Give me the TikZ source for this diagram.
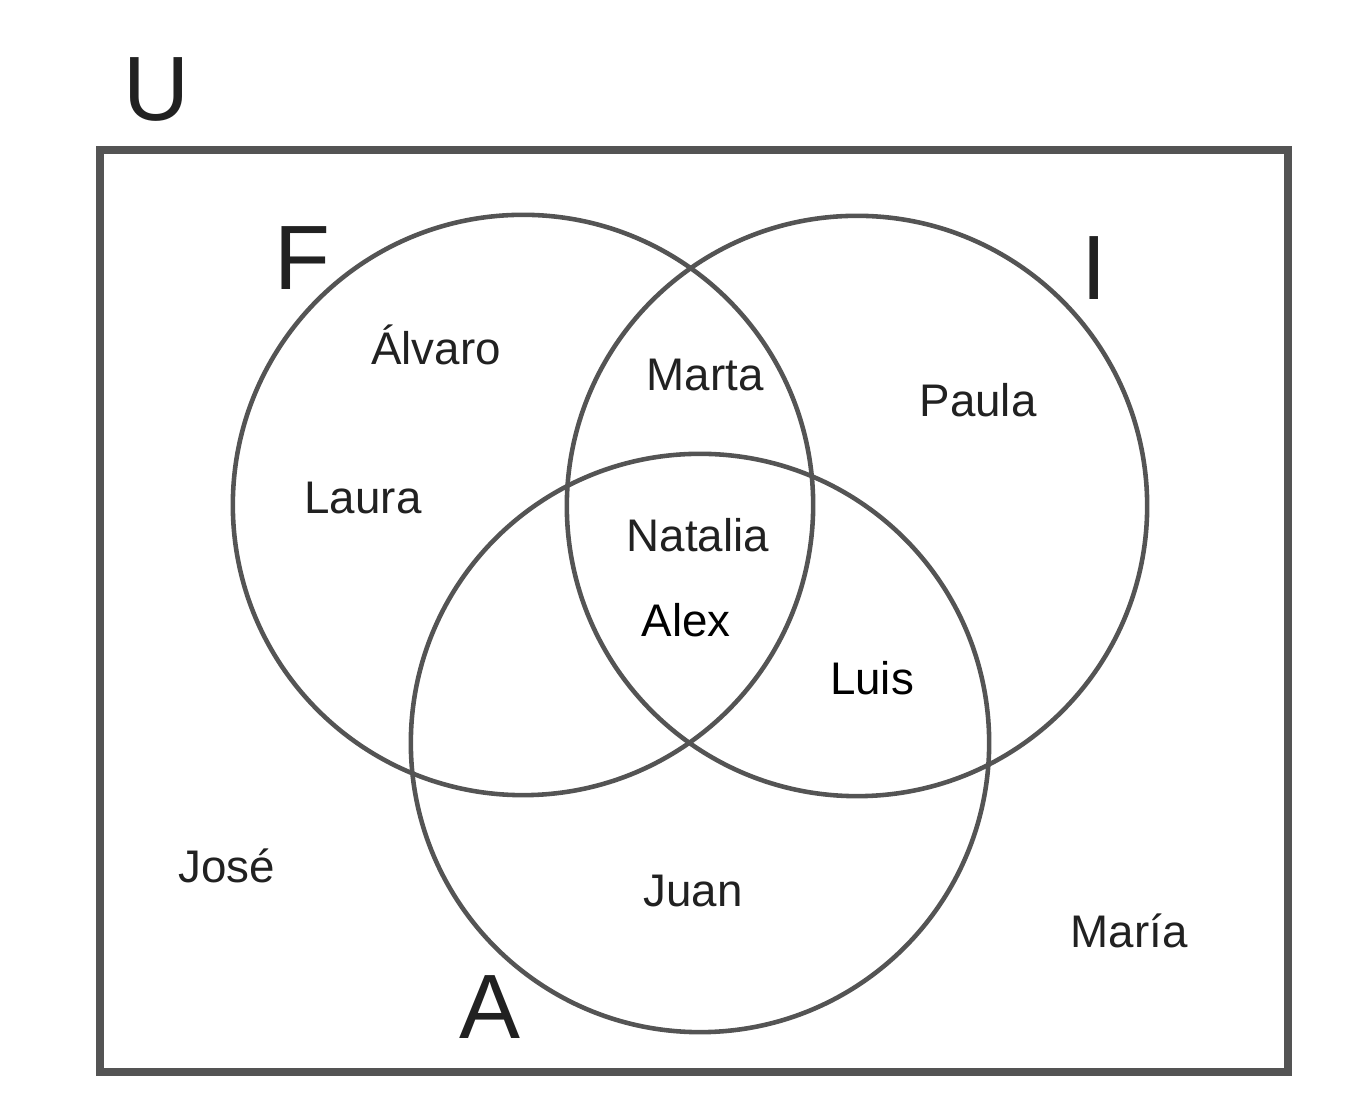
\documentclass[tikz,border=0pt]{standalone}
\usepackage{fontspec}
\setmainfont{Liberation Sans}
\begin{document}
\begin{tikzpicture}[x=0.01cm,y=-0.01cm,
  ring/.style={draw=black!67,line width=1.3pt,circle,inner sep=0pt},
  nm/.style={font=\fontsize{13pt}{16pt}\selectfont,text=black!87},
  big/.style={font=\fontsize{26pt}{30pt}\selectfont,text=black!87}]
\useasboundingbox (0,0) rectangle (1369,1107);
\draw[draw=black!67,line width=2pt] (100,150) rectangle (1288,1072);
\node[ring,minimum size=5.8cm] (F) at (523,505) {};
\node[ring,minimum size=5.8cm] (I) at (857,506) {};
\node[ring,minimum size=5.78cm] (A) at (700,743) {};
\node[big] (u) at (157,90) {U};
\node[big] (f) at (302,258) {F};
\node[big] (i) at (1094,268) {I};
\node[big] (a) at (490,1007) {A};
\node[nm] (n1) at (436,345) {Álvaro};
\node[nm] (n2) at (705,375) {Marta};
\node[nm] (n3) at (978,400) {Paula};
\node[nm] (n4) at (363,498) {Laura};
\node[nm] (n5) at (698,535) {Natalia};
\node[nm,text=black] (n6) at (686,620) {Alex};
\node[nm,text=black] (n7) at (872,678) {Luis};
\node[nm] (n8) at (227,866) {José};
\node[nm] (n9) at (693,891) {Juan};
\node[nm] (n10) at (1129,931) {María};
\end{tikzpicture}
\end{document}
